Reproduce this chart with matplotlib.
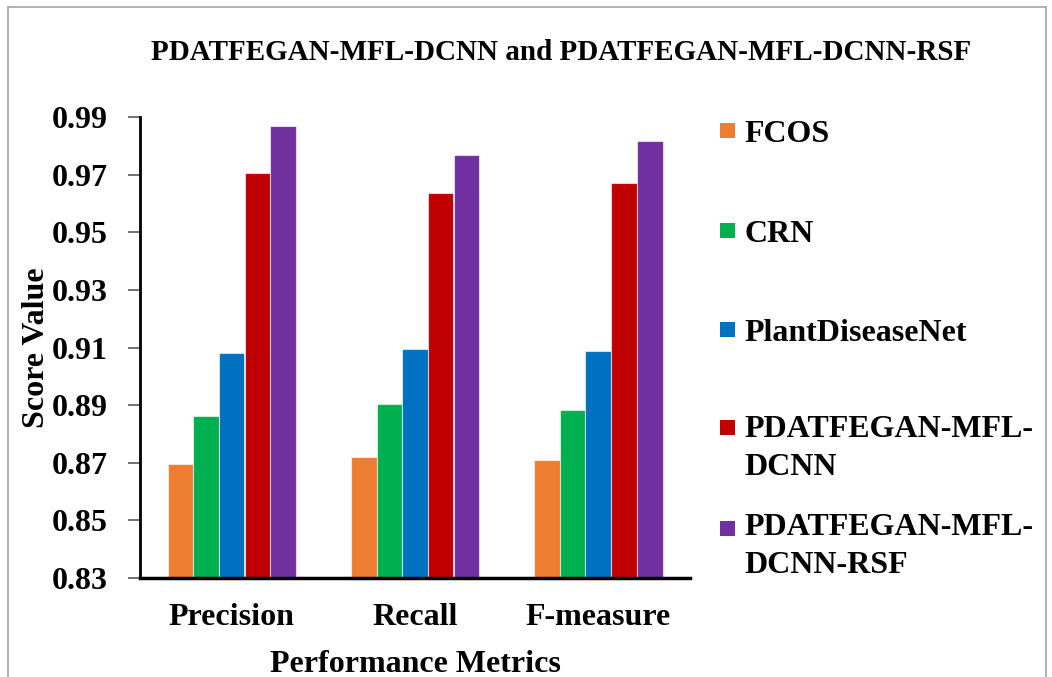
import matplotlib
matplotlib.use("Agg")
import matplotlib.pyplot as plt
import numpy as np
from matplotlib.patches import Rectangle
from matplotlib.lines import Line2D

plt.rcParams['font.family'] = ['Liberation Serif', 'DejaVu Serif']
plt.rcParams['font.weight'] = 'bold'

categories = ["Precision", "Recall", "F-measure"]
series_names = ["FCOS", "CRN", "PlantDiseaseNet", "PDATFEGAN-MFL-\nDCNN", "PDATFEGAN-MFL-\nDCNN-RSF"]
fcos = [0.8696, 0.8721, 0.8709]
crn = [0.8861, 0.8904, 0.8883]
plantdiseasenet = [0.9082, 0.9095, 0.9089]
pdatfegan = [0.9705, 0.9636, 0.9671]
pdatfegan_rsf = [0.9870, 0.9768, 0.9819]
yticks = [0.83, 0.85, 0.87, 0.89, 0.91, 0.93, 0.95, 0.97, 0.99]
colors = ["#ED7D31", "#00B050", "#0070C0", "#C00000", "#7030A0"]

values = [fcos, crn, plantdiseasenet, pdatfegan, pdatfegan_rsf]

W, H = 1052, 677
fig = plt.figure(figsize=(W / 100, H / 100), dpi=100)
ax = fig.add_axes([140 / W, 1 - 578 / H, 550 / W, (578 - 117.3) / H])

x = np.arange(len(categories))
bw = 0.14
for i, (vals, c) in enumerate(zip(values, colors)):
    ax.bar(x + (i - 2) * bw, np.array(vals) - 0.83, bw, bottom=0.83, color=c,
           edgecolor=(1, 1, 1, 0.6), linewidth=0.8, zorder=2)

ax.set_xlim(-0.5, 2.5)
ax.set_ylim(0.83, 0.99)
ax.set_yticks(yticks)
ax.set_yticklabels([f"{v:.2f}" for v in yticks], fontsize=23, fontweight='bold')
ax.set_xticks(x)
ax.set_xticklabels(categories, fontsize=23, fontweight='bold')
ax.tick_params(axis='x', length=0, pad=18)
ax.tick_params(axis='y', length=9, width=1.2, color='#595959', pad=14, direction='out')
for s in ['top', 'right']:
    ax.spines[s].set_visible(False)
ax.spines['left'].set_linewidth(2)
ax.spines['bottom'].set_linewidth(2.5)
ax.spines['left'].set_color('black')
ax.spines['bottom'].set_color('black')

ax.set_ylabel("Score Value", fontsize=23, fontweight='bold', labelpad=0.5)
ax.set_xlabel("Performance Metrics", fontsize=23, fontweight='bold', labelpad=13)

fig.text(561 / W, 1 - 53 / H, "PDATFEGAN-MFL-DCNN and PDATFEGAN-MFL-DCNN-RSF",
         fontsize=21, fontweight='bold', ha='center', va='center')

# Legend (manual, Excel-like spacing)
sq_top = [123, 223, 322, 420, 521]
base_y = [142, 242, 341, 475, 573]  # baseline of last line of each entry
for name, c, st, by in zip(series_names, colors, sq_top, base_y):
    fig.patches.append(Rectangle((720 / W, 1 - (st + 15) / H), 15 / W, 15 / H,
                                 transform=fig.transFigure, facecolor=c, edgecolor='none'))
    fig.text(744 / W, 1 - by / H, name, fontsize=23, fontweight='bold',
             ha='left', va='baseline', linespacing=1.39)

# outer border
bc = '#A6A6A6'
fig.lines.extend([
    Line2D([8 / W, 1046 / W], [1 - 7 / H, 1 - 7 / H], transform=fig.transFigure, color=bc, lw=1.2),
    Line2D([8 / W, 8 / W], [0, 1 - 7 / H], transform=fig.transFigure, color=bc, lw=1.2),
    Line2D([1046 / W, 1046 / W], [0, 1 - 7 / H], transform=fig.transFigure, color=bc, lw=1.2),
])

fig.savefig("out.png", dpi=100, facecolor='white')
